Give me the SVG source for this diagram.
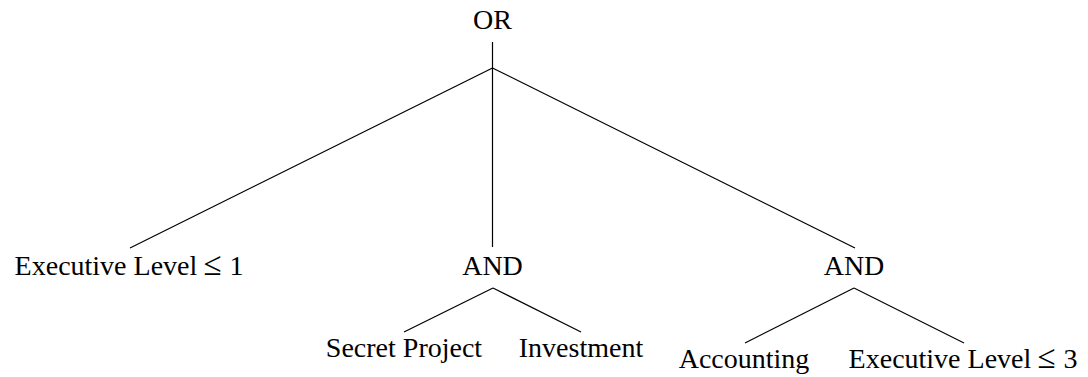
<svg xmlns="http://www.w3.org/2000/svg" width="1088" height="377" viewBox="0 0 1088 377">
<style>
.t{font-family:"Liberation Serif","Times New Roman",serif;font-size:28px;fill:#000;text-anchor:middle}
.m{font-size:33px}
.e{stroke:#000;stroke-width:1.2;fill:none}
</style>
<rect width="1088" height="377" fill="#fff"/>
<g id="connectors">
<line class="e" x1="492.5" y1="42" x2="492.5" y2="247"/>
<line class="e" x1="492.5" y1="68" x2="130" y2="248"/>
<line class="e" x1="492.5" y1="68" x2="855" y2="248"/>
<line class="e" x1="493" y1="288" x2="404" y2="332"/>
<line class="e" x1="493" y1="288" x2="581" y2="332"/>
<line class="e" x1="854" y1="288" x2="745" y2="343"/>
<line class="e" x1="854" y1="288" x2="964" y2="343"/>
</g>
<g id="root"><text class="t" x="492.5" y="29">OR</text></g>
<g id="exec1"><text class="t" x="129" y="275">Executive Level<tspan class="m" dx="6">≤</tspan><tspan dx="8">1</tspan></text></g>
<g id="and1"><text class="t" x="492.5" y="275">AND</text></g>
<g id="and2"><text class="t" x="854" y="275">AND</text></g>
<g id="secret"><text class="t" x="404" y="357">Secret Project</text></g>
<g id="invest"><text class="t" x="581" y="357">Investment</text></g>
<g id="account"><text class="t" x="744" y="368">Accounting</text></g>
<g id="exec3"><text class="t" x="963" y="368">Executive Level<tspan class="m" dx="6">≤</tspan><tspan dx="8">3</tspan></text></g>
</svg>
